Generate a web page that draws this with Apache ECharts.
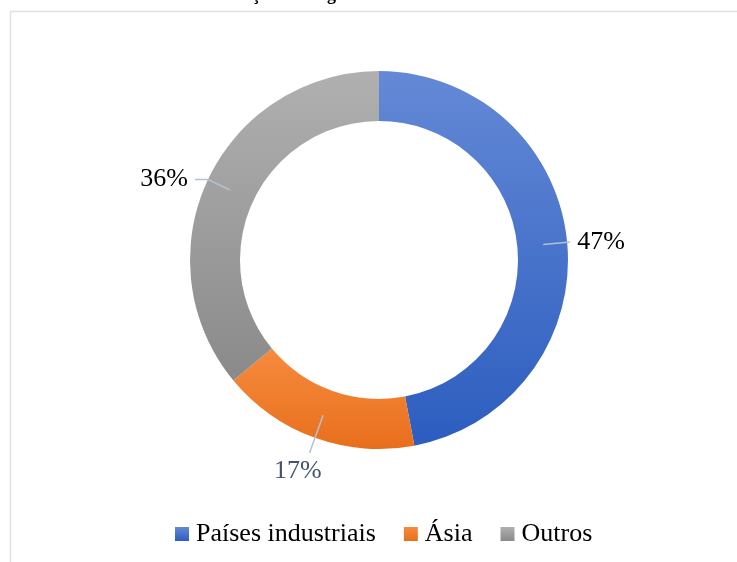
<!DOCTYPE html>
<html>
<head>
<meta charset="utf-8">
<script src="https://cdn.jsdelivr.net/npm/echarts@6/dist/echarts.min.js"></script>
<style>
  html, body { margin: 0; padding: 0; background: #fff; }
  #chart { width: 737px; height: 562px; }
</style>
</head>
<body>
<div id="chart"></div>
<script>
// data
const categories = ['Países industriais', 'Ásia', 'Outros']
const shares = [47, 17, 36]

// colors: [top, bottom] of each gradient
const colorStops = [
  ['#6489d6', '#2c5dbf'],
  ['#f68b3e', '#e86f1c'],
  ['#b0b0b0', '#8a8a8a']
]
const labelColors = ['#000', '#44546a', '#000']
// label line lengths per slice [radial, horizontal]
const lineLens = [[27, 0], [40, 0], [24, 13]]

const cx = 379
const cy = 260
const rOuter = 189
const rInner = 139
const rLabel = 165

function grad(i) {
  return new echarts.graphic.LinearGradient(0, 0, 0, 1, [
    { offset: 0, color: colorStops[i][0] },
    { offset: 1, color: colorStops[i][1] }
  ])
}

const chart = echarts.init(document.getElementById('chart'))
chart.setOption({
  animation: false,
  textStyle: { fontFamily: 'Liberation Serif' },
  graphic: [
    {
      type: 'rect',
      shape: { x: 10.5, y: 11.5, width: 740, height: 560 },
      style: { fill: 'none', stroke: '#dde2ea', lineWidth: 1.5 },
      silent: true
    },
    {
      type: 'text',
      x: 183,
      y: 4,
      style: {
        text: 'Distribuição de origem',
        font: 'bold 18px "Liberation Serif"',
        fill: '#000',
        verticalAlign: 'bottom'
      },
      silent: true
    }
  ],
  legend: {
    bottom: 10,
    left: 170,
    icon: 'rect',
    itemWidth: 14,
    itemHeight: 14,
    itemGap: 28,
    textStyle: { fontSize: 26, color: '#000', fontFamily: 'Liberation Serif', padding: [0, 0, 0, 2] },
    data: categories.map((name, i) => ({ name, itemStyle: { color: grad(i) } }))
  },
  series: [
    {
      type: 'pie',
      center: [cx, cy],
      radius: [rInner, rOuter],
      startAngle: 90,
      clockwise: true,
      silent: true,
      label: { show: false },
      labelLine: { show: false },
      data: categories.map((name, i) => ({
        name,
        value: shares[i],
        itemStyle: { color: grad(i) }
      }))
    },
    {
      // invisible disc up to mid-ring, only carries the labels
      type: 'pie',
      z: 5,
      center: [cx, cy],
      radius: [0, rLabel],
      startAngle: 90,
      clockwise: true,
      silent: true,
      itemStyle: { color: 'rgba(0,0,0,0)' },
      label: {
        show: true,
        position: 'outside',
        fontSize: 26,
        fontFamily: 'Liberation Serif',
        distanceToLabelLine: 7,
        formatter: p => p.value + '%'
      },
      labelLine: {
        show: true,
        lineStyle: { color: '#b4c0d0', width: 1.5 }
      },
      labelLayout: function (params) {
        // Ásia label sits centred under the end of its line
        if (params.dataIndex === 1) {
          return { dx: 19, dy: 18 }
        }
        return {}
      },
      data: categories.map((name, i) => ({
        name,
        value: shares[i],
        label: { color: labelColors[i] },
        labelLine: { length: lineLens[i][0], length2: lineLens[i][1] }
      }))
    }
  ]
})
</script>
</body>
</html>
